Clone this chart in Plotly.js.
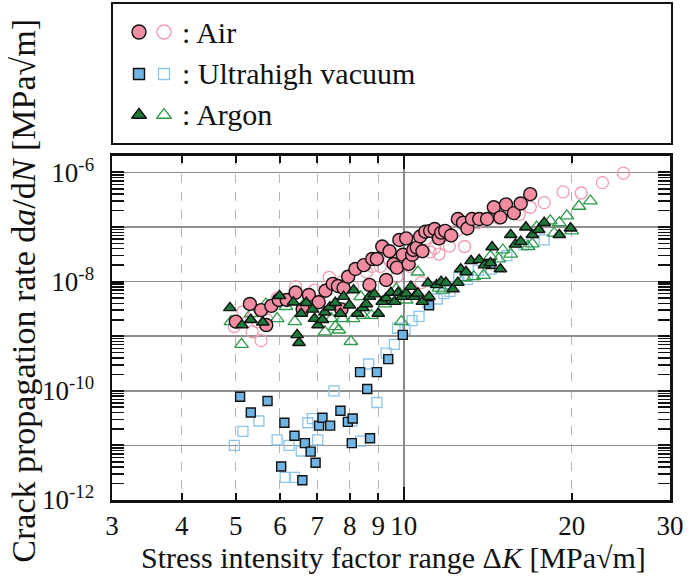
<!DOCTYPE html>
<html>
<head>
<meta charset="utf-8">
<script src="https://cdn.plot.ly/plotly-3.0.1.min.js"></script>
<style>html,body{margin:0;padding:0;background:#fff;}#chart{width:700px;height:582px;}</style>
</head>
<body>
<div id="chart"></div>
<script>
// ---- Data (ΔK in MPa√m, da/dN) ----
const airFilledK = [5.0,5.3,5.55,5.67,5.79,5.97,6.17,6.4,6.59,6.76,7.04,7.24,7.46,7.62,7.73,7.8,7.95,8.19,8.48,8.68,8.78,8.95,9.15,9.3,9.43,9.59,9.72,9.82,10.1,9.96,10.2,10.35,10.4,10.55,10.7,10.8,10.93,11.15,11.36,11.56,11.67,11.86,12.16,12.5,12.77,13.0,13.25,13.65,14.1,14.5,14.9,15.25,15.75,16.2,16.85];
const airFilledR = [1.85e-9,3.9e-9,3.0e-9,1.6e-9,3.6e-9,4.6e-9,4.6e-9,6.3e-9,3.1e-9,5.7e-9,4.2e-9,6.8e-9,9.1e-9,8.3e-9,3.1e-9,7.6e-9,1.23e-8,1.7e-8,2.0e-8,8.7e-9,2.6e-8,2.6e-8,4.4e-8,1.07e-8,3.6e-8,2.1e-8,1.8e-8,5.8e-8,6.2e-8,3.1e-8,2.1e-8,3.1e-8,3.8e-8,4.2e-8,6.7e-8,3.6e-8,8.2e-8,8.5e-8,9.2e-8,6.2e-8,7.9e-8,8.5e-8,7.0e-8,1.4e-7,1.2e-7,9.4e-8,1.4e-7,1.4e-7,1.4e-7,2.3e-7,1.5e-7,2.6e-7,1.8e-7,2.7e-7,4.0e-7];
const airOpenK = [4.97,5.15,5.35,5.55,5.47,5.68,5.93,6.4,6.92,7.35,7.73,8.1,8.58,8.78,9.08,9.43,9.72,10.25,10.75,10.95,11.15,11.36,11.56,12.07,12.5,12.85,13.55,14.8,15.35,16.1,16.85,17.85,19.3,20.8,22.7,24.75];
const airOpenR = [1.5e-9,2.8e-9,1.2e-9,8.3e-10,1.85e-9,2.0e-9,5.0e-9,8.1e-9,7.0e-9,1.2e-8,9.8e-9,8.1e-9,1.5e-8,1.9e-8,1.9e-8,2.4e-8,1.23e-8,1.9e-8,9.6e-9,6.2e-8,3.5e-8,4.1e-8,3.2e-8,4.5e-8,8.9e-8,4.4e-8,1.2e-7,1.45e-7,2.0e-7,1.7e-7,2.3e-7,2.8e-7,4.4e-7,4.2e-7,6.5e-7,9.7e-7];
const vacFilledK = [5.09,5.32,5.7,6.03,6.11,6.37,6.58,6.65,6.81,6.95,7.05,7.15,7.38,7.7,7.94,8.1,8.07,8.7,8.6,8.35,8.95,9.38,9.96,11.1,14.3];
const vacFilledR = [7.8e-11,4.0e-11,6.5e-11,4.1e-12,2.6e-11,1.5e-11,2.3e-12,1.1e-11,7.7e-12,4.8e-12,2.3e-11,3.2e-11,2.3e-11,4.3e-11,2.7e-11,3.1e-11,1.1e-11,1.35e-11,1.08e-10,2.2e-10,2.2e-10,3.8e-10,1.06e-9,3.7e-9,2.1e-8];
const vacOpenK = [4.97,5.15,5.5,5.93,6.13,6.23,6.37,6.55,6.73,6.86,7.01,7.5,8.07,8.37,8.95,8.65,9.3,9.62,9.75,10.05,10.35,10.65,11.05,11.48,11.8,12.1,12.55,13.0,13.6,14.35,15.3,16.4,17.85];
const vacOpenR = [1.0e-11,1.8e-11,2.8e-11,1.26e-11,2.6e-12,1.0e-11,2.6e-12,7.9e-12,2.6e-11,3.1e-11,1.26e-11,1.0e-10,2.8e-11,1.2e-11,6.1e-11,3.1e-10,4.9e-10,7.1e-10,1.4e-9,1.34e-9,1.93e-9,2.3e-9,4.1e-9,4.8e-9,6.0e-9,6.6e-9,1.18e-8,1.1e-8,1.6e-8,1.7e-8,3.0e-8,4.7e-8,5.8e-8];
const argFilledK = [4.88,5.13,5.32,5.59,5.99,6.34,6.44,6.49,6.55,6.69,6.86,6.92,7.02,7.15,7.22,7.37,7.54,7.7,7.8,7.99,8.13,8.27,8.45,8.57,8.68,8.86,9.0,9.15,9.3,9.48,9.63,9.77,9.92,10.1,10.3,10.45,10.6,10.8,11.05,11.1,11.45,11.67,11.9,12.25,12.5,12.65,12.93,13.2,13.65,13.95,14.3,14.4,14.9,15.55,15.85,16.2,16.55,17.0,17.45,17.85,19.0,19.9];
const argFilledR = [3.3e-9,1.6e-9,2.0e-9,1.8e-9,5.5e-9,4.2e-9,1.06e-9,7.6e-10,2.6e-9,4.1e-9,3.1e-9,2.1e-9,1.6e-9,2.0e-9,2.75e-9,3.4e-9,4.1e-9,2.6e-9,5.3e-9,3.7e-9,7.0e-9,2.6e-9,3.3e-9,3.9e-9,5.3e-9,5.9e-9,2.6e-9,4.3e-9,5.0e-9,6.3e-9,4.3e-9,6.3e-9,5.3e-9,6.1e-9,8.1e-9,5.3e-9,6.1e-9,4.3e-9,9.4e-9,5.3e-9,8.7e-9,1.0e-8,9.6e-9,7.3e-9,9.6e-9,1.7e-8,1.5e-8,2.4e-8,2.5e-8,2.0e-8,2.2e-8,4.3e-8,1.7e-8,7.2e-8,4.8e-8,5.4e-8,9.9e-8,7.2e-8,8.9e-8,1.2e-7,7.2e-8,9.5e-8];
const argOpenK = [4.9,5.12,5.33,5.66,5.93,6.15,6.38,6.71,7.22,7.42,7.54,7.65,7.77,8.04,8.11,8.37,8.45,8.75,9.25,9.7,9.9,10.1,10.6,11.56,11.75,12.85,13.35,13.9,14.3,14.8,15.05,15.55,16.7,17.0,17.3,18.3,18.6,19.0,19.6,20.0,20.6,21.6];
const argOpenR = [1.85e-9,7.1e-10,2.6e-9,3.9e-9,2.1e-9,3.5e-9,1.85e-9,4.6e-9,1.2e-9,2.1e-9,1.5e-9,1.3e-9,2.1e-9,8.0e-10,2.1e-9,5.3e-9,2.4e-9,2.4e-9,3.9e-9,7.3e-9,1.85e-9,4.6e-9,1.5e-8,7.6e-9,7.0e-9,1.18e-8,1.23e-8,1.3e-8,2.9e-8,2.6e-8,3.8e-8,3.2e-8,4.4e-8,4.9e-8,1.0e-7,1.3e-7,7.7e-8,1.2e-7,1.6e-7,8.5e-8,2.4e-7,3.0e-7];

// ---- Ticks / labels ----
const xTickVals = [3,4,5,6,7,8,9,10,20,30];
const xTickText = ['3','4','5','6','7','8','9','10','20','30'];
const yTickVals = [1e-6,1e-7,1e-8,1e-9,1e-10,1e-11,1e-12];
const yTickText = ['10<sup>-6</sup>','','10<sup>-8</sup>','','10<sup>-10</sup>','','10<sup>-12</sup>'];
const legendLabels = [': Air', ': Ultrahigh vacuum', ': Argon'];

const FONT = '"Liberation Serif", "Times New Roman", Times, serif';
const C = {
  airFill:'#f28ca0', airOpen:'#f29aae',
  vacFill:'#6fb4e3', vacOpen:'#8cc5ea',
  argFill:'#1d7a3a', argOpen:'#2e9a4c'
};

function openTrace(x,y,symbol,color,size){
  return {type:'scatter',mode:'markers',x:x,y:y,xaxis:'x',yaxis:'y',showlegend:false,
    marker:{symbol:symbol,size:size,color:color,line:{color:color,width:1.3}}};
}
function filledTrace(x,y,symbol,color,size){
  return {type:'scatter',mode:'markers',x:x,y:y,xaxis:'x',yaxis:'y',showlegend:false,
    marker:{symbol:symbol,size:size,color:color,line:{color:'#111',width:1.4}}};
}

const traces = [
  openTrace(airOpenK, airOpenR, 'circle-open', C.airOpen, 12),
  openTrace(vacOpenK, vacOpenR, 'square-open', C.vacOpen, 10),
  openTrace(argOpenK, argOpenR, 'triangle-up-open', C.argOpen, 12),
  filledTrace(airFilledK, airFilledR, 'circle', C.airFill, 13),
  filledTrace(vacFilledK, vacFilledR, 'square', C.vacFill, 9),
  filledTrace(argFilledK, argFilledR, 'triangle-up', C.argFill, 11),
  // overlay axis carrying the solid gridline at ΔK = 10
  {type:'scatter',mode:'markers',x:[],y:[],xaxis:'x3',yaxis:'y',showlegend:false,hoverinfo:'skip'}
];

// legend markers (drawn on a hidden helper axis)
const legRowY = [32, 74, 115];
const legFilledX = 139, legOpenX = 164, legTextX = 180;
traces.push(
  {type:'scatter',mode:'markers',xaxis:'x2',yaxis:'y2',showlegend:false,hoverinfo:'skip',
   x:[legFilledX],y:[legRowY[0]],marker:{symbol:'circle',size:14,color:C.airFill,line:{color:'#111',width:1.4}}},
  {type:'scatter',mode:'markers',xaxis:'x2',yaxis:'y2',showlegend:false,hoverinfo:'skip',
   x:[legOpenX],y:[legRowY[0]],marker:{symbol:'circle-open',size:14,color:C.airOpen,line:{color:C.airOpen,width:1.3}}},
  {type:'scatter',mode:'markers',xaxis:'x2',yaxis:'y2',showlegend:false,hoverinfo:'skip',
   x:[legFilledX],y:[legRowY[1]],marker:{symbol:'square',size:11,color:C.vacFill,line:{color:'#111',width:1.4}}},
  {type:'scatter',mode:'markers',xaxis:'x2',yaxis:'y2',showlegend:false,hoverinfo:'skip',
   x:[legOpenX],y:[legRowY[1]],marker:{symbol:'square-open',size:11,color:C.vacOpen,line:{color:C.vacOpen,width:1.3}}},
  {type:'scatter',mode:'markers',xaxis:'x2',yaxis:'y2',showlegend:false,hoverinfo:'skip',
   x:[legFilledX],y:[legRowY[2]],marker:{symbol:'triangle-up',size:13,color:C.argFill,line:{color:'#111',width:1.4}}},
  {type:'scatter',mode:'markers',xaxis:'x2',yaxis:'y2',showlegend:false,hoverinfo:'skip',
   x:[legOpenX],y:[legRowY[2]],marker:{symbol:'triangle-up-open',size:13,color:C.argOpen,line:{color:C.argOpen,width:1.3}}}
);

const annotations = legendLabels.map((t,i)=>({
  xref:'x2', yref:'y2', x:legTextX, y:legRowY[i], text:t, showarrow:false,
  xanchor:'left', yanchor:'middle', font:{family:FONT,size:30,color:'#111'}
}));
annotations.push({
  xref:'paper', yref:'paper', x:-0.158, y:0.42, textangle:-90, showarrow:false,
  xanchor:'center', yanchor:'middle',
  text:'Crack propagation rate d<i>a</i>/d<i>N</i> [MPa√m]',
  font:{family:FONT,size:34,color:'#111'}
});
annotations.push({
  xref:'paper', yref:'paper', x:0.505, y:-0.116, showarrow:false,
  xanchor:'center', yanchor:'middle',
  text:'Stress intensity factor range Δ<i>K</i> [MPa√m]',
  font:{family:FONT,size:30,color:'#111'}
});

const xRange = [Math.log10(3), Math.log10(30)];
const layout = {
  width:700, height:582,
  margin:{l:112, r:30, t:2, b:82},
  paper_bgcolor:'#fff', plot_bgcolor:'#fff',
  showlegend:false,
  font:{family:FONT, color:'#111'},
  xaxis:{
    type:'log', range:xRange, domain:[0,1], anchor:'y',
    tickmode:'array', tickvals:xTickVals, ticktext:xTickText,
    ticks:'inside', ticklen:7, tickwidth:2, tickcolor:'#111',
    showline:true, linewidth:2.5, linecolor:'#111', mirror:'allticks',
    showgrid:true, gridcolor:'#b5b5b5', gridwidth:1, griddash:'dash',
    zeroline:false, tickfont:{family:FONT,size:27,color:'#111'}
  },
  xaxis3:{
    type:'log', range:xRange, overlaying:'x', anchor:'y', side:'bottom',
    tickmode:'array', tickvals:[10], ticks:'inside', ticklen:13, tickwidth:2.5, tickcolor:'#111',
    mirror:'allticks', showline:false, showticklabels:false,
    showgrid:true, gridcolor:'#8a8a8a', gridwidth:1.5, zeroline:false
  },
  yaxis:{
    type:'log', range:[-12, Math.log10(2e-6)], domain:[0, 0.6908], anchor:'x',
    tickmode:'array', tickvals:yTickVals, ticktext:yTickText,
    ticks:'inside', ticklen:12, tickwidth:2, tickcolor:'#111',
    minor:{ticks:'inside', ticklen:7, tickwidth:1.5, tickcolor:'#111', dtick:'D1', showgrid:false},
    showline:true, linewidth:2.5, linecolor:'#111', mirror:'allticks',
    showgrid:true, gridcolor:'#8f8f8f', gridwidth:1.5,
    ticklabelstandoff:10,
    zeroline:false, tickfont:{family:FONT,size:27,color:'#111'}
  },
  xaxis2:{domain:[0,1], anchor:'y2', range:[112,670], visible:false, fixedrange:true},
  yaxis2:{domain:[0.7149,1], anchor:'x2', range:[144,2], visible:false, fixedrange:true},
  shapes:[{
    type:'rect', xref:'paper', yref:'paper', x0:0, x1:1.0036, y0:0.7149, y1:0.998,
    line:{color:'#111', width:2}, fillcolor:'rgba(0,0,0,0)'
  }],
  annotations:annotations
};

Plotly.newPlot('chart', traces, layout, {displayModeBar:false, staticPlot:true});
</script>
</body>
</html>
